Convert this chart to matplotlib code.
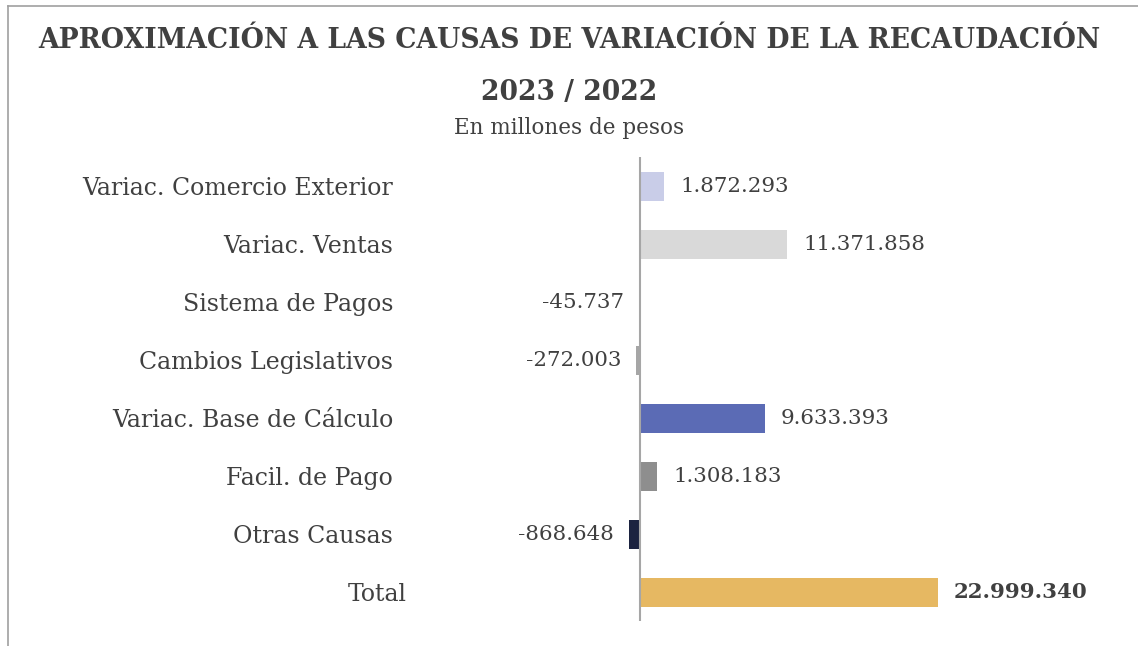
import matplotlib
matplotlib.use("Agg")
import matplotlib.pyplot as plt
from matplotlib.lines import Line2D
import matplotlib.transforms as mtransforms

categories = ["Variac. Comercio Exterior", "Variac. Ventas", "Sistema de Pagos",
              "Cambios Legislativos", "Variac. Base de Cálculo", "Facil. de Pago",
              "Otras Causas", "Total"]
values = [1872293, 11371858, -45737, -272003, 9633393, 1308183, -868648, 22999340]
colors = ["#C9CDE8", "#D9D9D9", "#7F8BC2", "#A6A6A6", "#5B6BB5", "#8E8E8E", "#1C2340", "#E6B862"]
value_labels = ["1.872.293", "11.371.858", "-45.737", "-272.003", "9.633.393",
                "1.308.183", "-868.648", "22.999.340"]

FAM = "DejaVu Serif"
TXT = "#404040"
W, H = 1138, 646
fig = plt.figure(figsize=(W / 100, H / 100), dpi=100)

ax_left, ax_right, ax_top, ax_bot = 405, 1100, 157, 621
ax = fig.add_axes([ax_left / W, 1 - ax_bot / H, (ax_right - ax_left) / W, (ax_bot - ax_top) / H])

zero_px = 640
px_per_unit = (938 - 640) / 22999340
xmin = -(zero_px - ax_left) / px_per_unit
xmax = (ax_right - zero_px) / px_per_unit
ax.set_xlim(xmin, xmax)

y = list(range(len(categories)))
ax.barh(y, values, height=0.5, color=colors, zorder=2)
ax.set_ylim(len(categories) - 0.5, -0.5)
ax.axvline(0, color="#A6A6A6", lw=1.5, zorder=3)

for sp in ax.spines.values():
    sp.set_visible(False)
ax.set_xticks([])
ax.set_yticks(y)
ax.set_yticklabels(categories, fontsize=17, family=FAM, color=TXT)
ax.tick_params(axis="y", length=0, pad=8.6)
lbl = ax.get_yticklabels()[-1]
lbl.set_transform(lbl.get_transform() + mtransforms.ScaledTranslation(14 / 100, 0, fig.dpi_scale_trans))

for yi, v, t in zip(y, values, value_labels):
    bold = (t == value_labels[-1])
    if v >= 0:
        ax.annotate(t, (v, yi), xytext=(16, 0), textcoords="offset pixels",
                    ha="left", va="center", fontsize=15.4, family=FAM, color=TXT,
                    fontweight="bold" if bold else "normal")
    else:
        ax.annotate(t, (v, yi), xytext=(-15, 0), textcoords="offset pixels",
                    ha="right", va="center", fontsize=15.4, family=FAM, color=TXT)

fig.text(0.5, 1 - 40 / H, "APROXIMACIÓN A LAS CAUSAS DE VARIACIÓN DE LA RECAUDACIÓN",
         ha="center", va="center", fontsize=19.2, fontweight="bold", family=FAM, color=TXT)
fig.text(0.5, 1 - 92 / H, "2023 / 2022", ha="center", va="center", fontsize=19.2,
         fontweight="bold", family=FAM, color=TXT)
fig.text(0.5, 1 - 128 / H, "En millones de pesos", ha="center", va="center",
         fontsize=15.5, family=FAM, color=TXT)

fig.add_artist(Line2D([8 / W, 1], [1 - 6 / H, 1 - 6 / H], transform=fig.transFigure,
                      color="#A0A0A0", lw=1.2))
fig.add_artist(Line2D([8 / W, 8 / W], [0, 1 - 6 / H], transform=fig.transFigure,
                      color="#A0A0A0", lw=1.2))

fig.savefig("out.png", dpi=100)
